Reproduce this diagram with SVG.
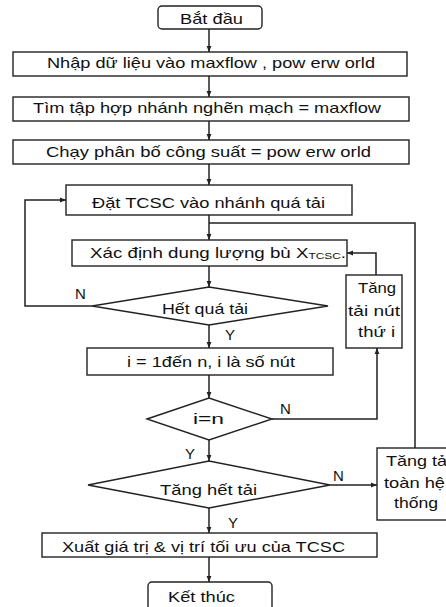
<svg xmlns="http://www.w3.org/2000/svg" width="446" height="607" viewBox="0 0 446 607">
<defs>
<style>
.b{fill:#fff;stroke:#222;stroke-width:1.4}
.t{font-family:"Liberation Sans",Arial,sans-serif;font-size:15px;fill:#111}
.c{fill:none;stroke:#222;stroke-width:1.5}
.a{marker-end:url(#ar)}
</style>
<marker id="ar" viewBox="0 0 6 6" refX="6" refY="3" markerWidth="6" markerHeight="6" markerUnits="userSpaceOnUse" orient="auto">
<path d="M0,0.6 L6,3 L0,5.4 z" fill="#222"/>
</marker>
</defs>
<rect width="446" height="607" fill="#fff"/>
<g id="connectors">
<path class="c a" d="M209,29 V52"/>
<path class="c a" d="M209,76 V97"/>
<path class="c a" d="M209,121 V140"/>
<path class="c a" d="M209,164 V185"/>
<path class="c a" d="M209,215 V240"/>
<path class="c" d="M209,223 H415 V448"/>
<path class="c a" d="M209,266 V287"/>
<path class="c a" d="M209,325 V348"/>
<path class="c a" d="M209,375 V398"/>
<path class="c a" d="M209,440 V461"/>
<path class="c a" d="M209,508 V533"/>
<path class="c a" d="M209,557 V582"/>
<path class="c a" d="M92,306 H25 V200 H66"/>
<path class="c a" d="M272,419 H377 V348"/>
<path class="c a" d="M376,275 V253 H347"/>
<path class="c a" d="M330,485 H377"/>
<text class="t" x="75" y="299">N</text>
<text class="t" x="225" y="340">Y</text>
<text class="t" x="280" y="414">N</text>
<text class="t" x="185" y="459">Y</text>
<text class="t" x="333" y="481">N</text>
<text class="t" x="228" y="528">Y</text>
</g>
<g id="start">
<rect class="b" x="158" y="6" width="104" height="23" rx="4"/>
<text class="t" x="180" y="24" textLength="63" lengthAdjust="spacingAndGlyphs">Bắt đầu</text>
</g>
<g id="input">
<rect class="b" x="13" y="52" width="394" height="24"/>
<text class="t" x="47" y="68" textLength="328" lengthAdjust="spacingAndGlyphs">Nhập dữ liệu vào maxflow , pow erw orld</text>
</g>
<g id="find">
<rect class="b" x="13" y="97" width="396" height="24"/>
<text class="t" x="33" y="113" textLength="348" lengthAdjust="spacingAndGlyphs">Tìm tập hợp nhánh nghẽn mạch = maxflow</text>
</g>
<g id="run">
<rect class="b" x="13" y="140" width="396" height="24"/>
<text class="t" x="46" y="157" textLength="325" lengthAdjust="spacingAndGlyphs">Chạy phân bố công suất = pow erw orld</text>
</g>
<g id="place">
<rect class="b" x="66" y="185" width="286" height="30"/>
<text class="t" x="92" y="208" textLength="233" lengthAdjust="spacingAndGlyphs">Đặt TCSC vào nhánh quá tải</text>
</g>
<g id="determine">
<rect class="b" x="72" y="240" width="275" height="26"/>
<text class="t" x="90" y="258" textLength="256" lengthAdjust="spacingAndGlyphs">Xác định dung lượng bù X<tspan font-size="9.5" dy="1">TCSC</tspan><tspan dy="-1">.</tspan></text>
</g>
<g id="overload">
<polygon class="b" points="92,306 209,287 328,306 209,325"/>
<text class="t" x="162" y="314" textLength="86" lengthAdjust="spacingAndGlyphs">Hết quá tải</text>
</g>
<g id="loop">
<rect class="b" x="87" y="348" width="246" height="27"/>
<text class="t" x="127" y="367" textLength="168" lengthAdjust="spacingAndGlyphs">i = 1đến n, i là số nút</text>
</g>
<g id="iequaln">
<polygon class="b" points="147,419 209,398 272,419 209,440"/>
<text class="t" x="193" y="424" textLength="31" lengthAdjust="spacingAndGlyphs">i=n</text>
</g>
<g id="nodeload">
<rect class="b" x="346" y="275" width="56" height="73"/>
<text class="t" x="358" y="293" textLength="38" lengthAdjust="spacingAndGlyphs">Tăng</text>
<text class="t" x="348" y="316" textLength="52" lengthAdjust="spacingAndGlyphs">tải nút</text>
<text class="t" x="358" y="337" textLength="37" lengthAdjust="spacingAndGlyphs">thứ i</text>
</g>
<g id="fullload">
<polygon class="b" points="88,485 209,461 330,485 209,508"/>
<text class="t" x="160" y="495" textLength="97" lengthAdjust="spacingAndGlyphs">Tăng hết tải</text>
</g>
<g id="sysload">
<rect class="b" x="377" y="448" width="80" height="72"/>
<text class="t" x="386" y="466" textLength="65" lengthAdjust="spacingAndGlyphs">Tăng tải</text>
<text class="t" x="384" y="488" textLength="61" lengthAdjust="spacingAndGlyphs">toàn hệ</text>
<text class="t" x="394" y="508" textLength="44" lengthAdjust="spacingAndGlyphs">thống</text>
</g>
<g id="output">
<rect class="b" x="42" y="533" width="335" height="24"/>
<text class="t" x="62" y="552" textLength="283" lengthAdjust="spacingAndGlyphs">Xuất giá trị &amp; vị trí tối ưu của TCSC</text>
</g>
<g id="end">
<rect class="b" x="148" y="582" width="124" height="32" rx="4"/>
<text class="t" x="168" y="602" textLength="67" lengthAdjust="spacingAndGlyphs">Kết thúc</text>
</g>
</svg>
